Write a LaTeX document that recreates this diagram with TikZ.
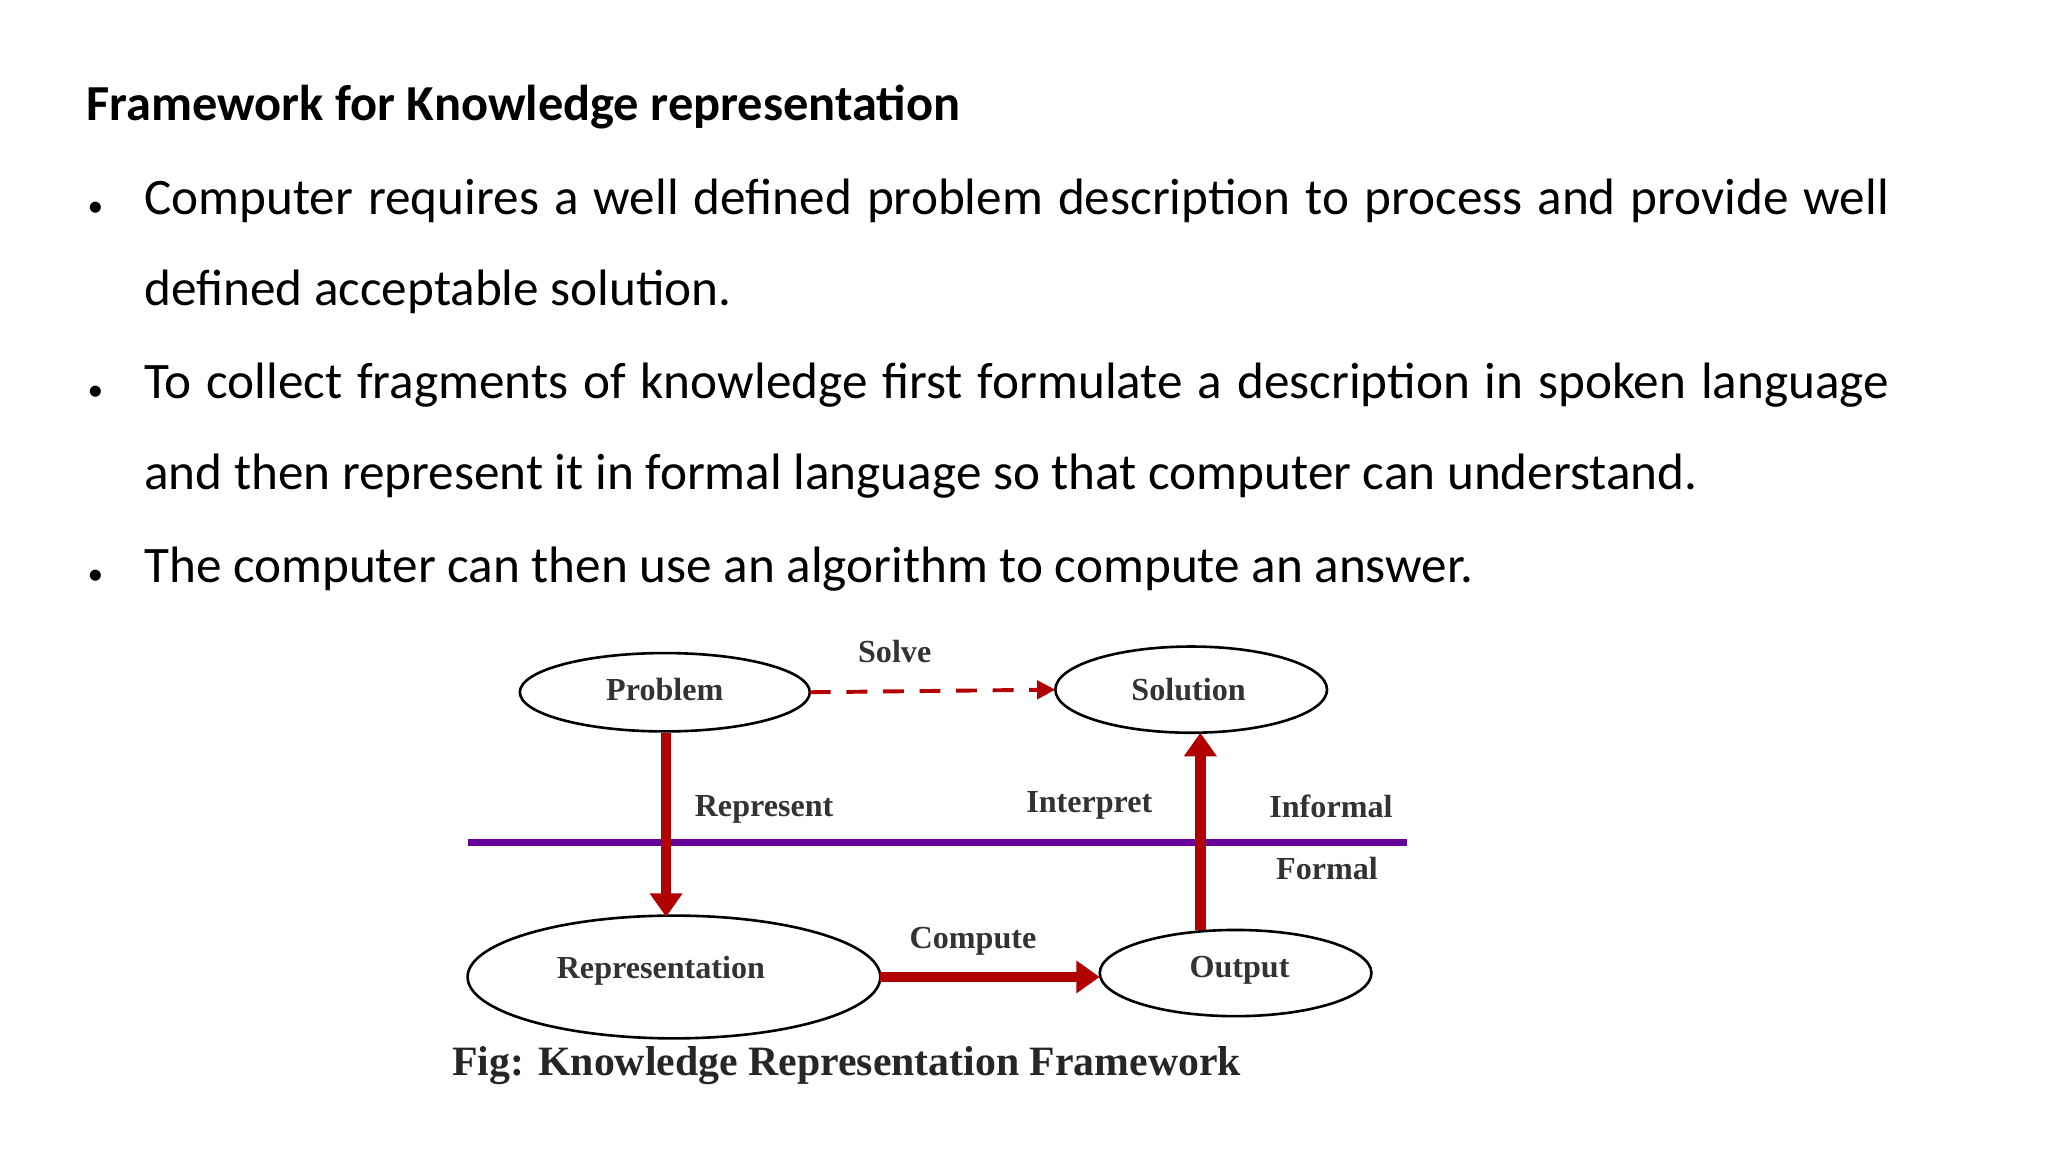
\documentclass[tikz,border=0pt]{standalone}
\usepackage{fontspec}
\setmainfont{Carlito}
\newfontfamily\diafont{Liberation Serif}
\usetikzlibrary{arrows.meta}
\begin{document}
\begin{tikzpicture}[x=0.5pt,y=-0.5pt,
  ell/.style={draw,line width=1pt},
  lab/.style={font=\diafont\bfseries\fontsize{12.3}{14}\selectfont,text=black!80,inner sep=0pt},
  redarr/.style={draw=red!70!black,line width=4pt,-{Triangle[length=9pt,width=12pt]}},
  body/.style={anchor=base west,inner sep=0pt,font=\fontsize{19.6}{23}\selectfont}]
\useasboundingbox (0,0) rectangle (1568,882);
\node[anchor=base west,inner sep=0pt,font=\bfseries\fontsize{19.3}{23}\selectfont] (title) at (66,92) {Framework for Knowledge representation};
\node[body] (b1) at (110,164) {\makebox[668pt][s]{Computer requires a well defined problem description to process and provide well}};
\node[body] (b1b) at (110,234) {defined acceptable solution.};
\node[body] (b2) at (110,305) {\makebox[668pt][s]{To collect fragments of knowledge first formulate a description in spoken language}};
\node[body] (b2b) at (110,375) {and then represent it in formal language so that computer can understand.};
\node[body] (b3) at (110,446) {The computer can then use an algorithm to compute an answer.};
\foreach \y/\n in {160/d1,301/d2,442/d3}
  \node[inner sep=0pt,font=\fontsize{12}{14}\selectfont] (\n) at (73,\y) {•};
% diagram
\draw[ell] (509,530) ellipse [x radius=111, y radius=30];
\draw[ell] (912,528) ellipse [x radius=104, y radius=33];
\draw[ell] (516,748) ellipse [x radius=158, y radius=47];
\draw[ell] (946,745) ellipse [x radius=104, y radius=33];
\coordinate (pb) at (510,561); \coordinate (pr) at (620,530);
\coordinate (st) at (919,561); \coordinate (sl) at (808,528);
\coordinate (rt) at (510,702); \coordinate (rr) at (674,748);
\coordinate (ot) at (919,712); \coordinate (ol) at (842,748);
\coordinate (ll) at (358,645); \coordinate (lr) at (1077,645);
\node[lab] (p) at (509,528) {Problem};
\node[lab] (s) at (910,528) {Solution};
\node[lab] (r) at (506,743) {Representation};
\node[lab] (o) at (949,743) {Output};
\draw[draw=violet!80!blue,line width=2.6pt] (ll) -- (lr);
\draw[redarr] (pb) -- (rt);
\draw[redarr] (ot) -- (st);
\draw[redarr] (rr) -- (ol);
\draw[draw=red!70!black,line width=1.5pt,dash pattern=on 8pt off 6pt,-{Triangle[length=7pt,width=7pt]}] (pr) -- (sl);
\node[lab] (solve) at (685,499) {Solve};
\node[lab] (rep) at (585,620) {Represent};
\node[lab] (int) at (834,617) {Interpret};
\node[lab] (inf) at (1019,617) {Informal};
\node[lab] (for) at (1016,665) {Formal};
\node[lab] (comp) at (745,721) {Compute};
\node[anchor=west,inner sep=0pt,font=\diafont\bfseries\fontsize{16}{19}\selectfont,text=black!85] (cap) at (346,816) {Fig: Knowledge Representation Framework};
\end{tikzpicture}
\end{document}
